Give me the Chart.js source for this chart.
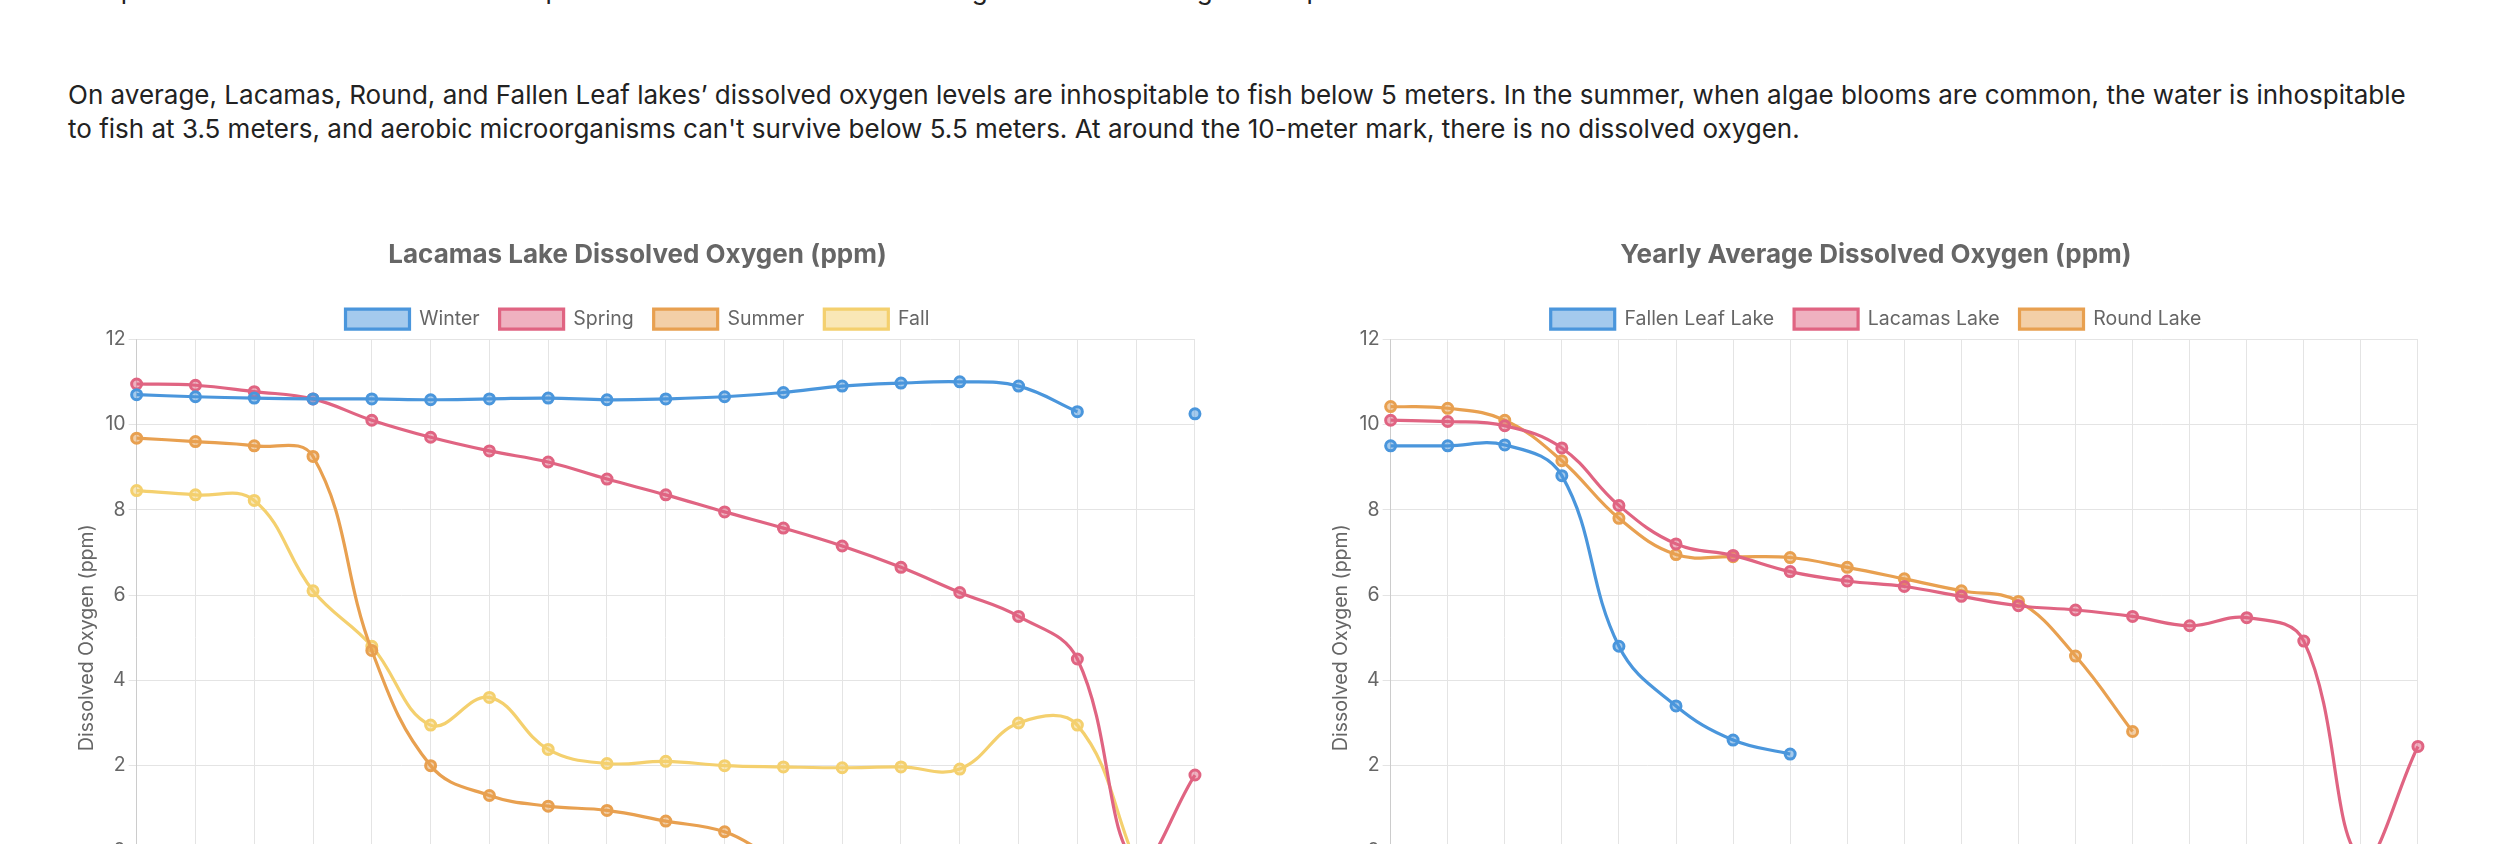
<!DOCTYPE html>
<html><head><meta charset="utf-8">
<script src="https://cdn.jsdelivr.net/npm/chart.js@4"></script>
<style>
html,body{margin:0;padding:0;overflow:hidden;background:#fff;width:2500px;height:844px;}
body{font-family:Inter,"Noto Sans",sans-serif;color:#222;}
.top{position:absolute;left:68px;top:-27px;font-size:26px;line-height:34px;margin:0;}
.p{position:absolute;left:68px;top:78px;width:2365px;font-size:26px;line-height:34px;margin:0;}
.c{position:absolute;top:230px;height:775px;}
</style></head><body>
<p class="top">Temperatures are hostile to most fish species above the thermocline as algae blooms and higher temperatures are common.</p>
<p class="p">On average, Lacamas, Round, and Fallen Leaf lakes’ dissolved oxygen levels are inhospitable to fish below 5 meters. In the summer, when algae blooms are common, the water is inhospitable to fish at 3.5 meters, and aerobic microorganisms can't survive below 5.5 meters. At around the 10-meter mark, there is no dissolved oxygen.</p>
<div class="c" style="left:71px;width:1133px"><canvas id="c1"></canvas></div>
<div class="c" style="left:1325px;width:1102px"><canvas id="c2"></canvas></div>
<script>
const depths=["0","0.5","1","1.5","2","2.5","3","3.5","4","4.5","5","5.5","6","6.5","7","7.5","8","8.5","9"];
const winter=[10.7,10.65,10.62,10.6,10.6,10.58,10.6,10.62,10.58,10.6,10.65,10.75,10.9,10.97,11.0,10.9,10.3,null,10.25];
const spring=[10.95,10.92,10.77,10.6,10.1,9.7,9.38,9.12,8.72,8.35,7.95,7.57,7.15,6.65,6.06,5.5,4.5,-0.3,1.78];
const summer=[9.68,9.6,9.5,9.25,4.7,2.0,1.3,1.05,0.95,0.7,0.45,-0.2,-0.2,-0.2,-0.2,-0.2,-0.2,-0.2,-0.2];
const fall=[8.45,8.35,8.22,6.1,4.8,2.95,3.6,2.38,2.05,2.1,2.0,1.97,1.95,1.97,1.92,3.0,2.95,-0.3,null];
const fallenLeaf=[9.5,9.5,9.52,8.8,4.8,3.4,2.6,2.27];
const lacamas=[10.1,10.07,9.97,9.45,8.1,7.2,6.93,6.55,6.33,6.2,5.97,5.75,5.65,5.5,5.28,5.47,4.92,-0.2,2.45];
const round=[10.42,10.38,10.1,9.15,7.8,6.95,6.9,6.88,6.65,6.38,6.1,5.85,4.57,2.8];
const yTicks=[0,2,4,6,8,10,12];
const C={blue:'74,150,220',pink:'224,100,130',orange:'232,160,80',yellow:'244,208,110'};
Chart.defaults.font.family='Inter,"Noto Sans",sans-serif';
Chart.defaults.font.size=19.5;
Chart.defaults.color='#666';
function ds(label,data,c){return {label,data,borderColor:`rgb(${c})`,backgroundColor:`rgba(${c},0.5)`,borderWidth:3.2,pointRadius:5,pointBorderWidth:3,tension:0.4,spanGaps:false};}
function opts(title){return {responsive:true,maintainAspectRatio:false,animation:false,
 plugins:{title:{display:true,text:title,font:{size:26,weight:'bold'},padding:{top:10,bottom:18}},
  legend:{labels:{boxWidth:64,boxHeight:20,padding:20}}},
 scales:{x:{grid:{color:'#e4e4e4'},title:{display:true,text:'Depth (m)'}},
  y:{min:-2,max:12,grid:{color:'#e4e4e4'},afterBuildTicks:a=>{a.ticks=yTicks.map(v=>({value:v}));},
   title:{display:true,text:'Dissolved Oxygen (ppm)'}}}};}
new Chart(document.getElementById('c1'),{type:'line',data:{labels:depths,datasets:[ds('Winter',winter,C.blue),ds('Spring',spring,C.pink),ds('Summer',summer,C.orange),ds('Fall',fall,C.yellow)]},options:opts('Lacamas Lake Dissolved Oxygen (ppm)')});
new Chart(document.getElementById('c2'),{type:'line',data:{labels:depths,datasets:[ds('Fallen Leaf Lake',fallenLeaf,C.blue),ds('Lacamas Lake',lacamas,C.pink),ds('Round Lake',round,C.orange)]},options:opts('Yearly Average Dissolved Oxygen (ppm)')});
</script></body></html>
